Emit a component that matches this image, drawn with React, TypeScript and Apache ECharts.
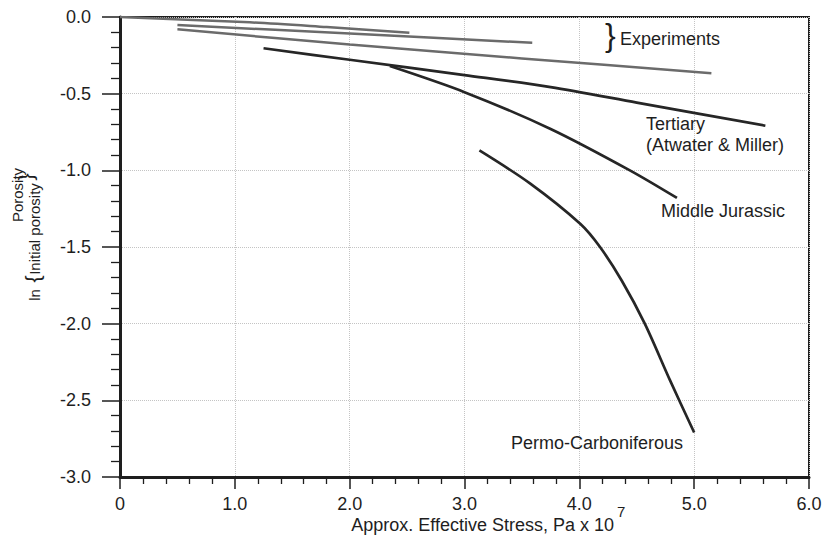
import React, { useEffect, useRef } from "react";
import * as echarts from "echarts";

// Compaction curves: ln(porosity / initial porosity) against effective stress (Pa x 1e7)
const experimentA: [number, number][] = [
  [0, 0],
  [1.13, -0.035],
  [1.8, -0.066],
  [2.52, -0.102],
];
const experimentB: [number, number][] = [
  [0.5, -0.052],
  [2.0, -0.108],
  [3.59, -0.168],
];
const experimentC: [number, number][] = [
  [0.5, -0.08],
  [2.0, -0.18],
  [3.5, -0.27],
  [5.15, -0.367],
];
const tertiary: [number, number][] = [
  [1.25, -0.204],
  [2.0, -0.279],
  [3.0, -0.379],
  [3.75, -0.457],
  [4.5, -0.558],
  [5.62, -0.709],
];
const middleJurassic: [number, number][] = [
  [2.35, -0.32],
  [3.0, -0.49],
  [3.75, -0.73],
  [4.44, -1.0],
  [4.85, -1.18],
];
const permoCarboniferous: [number, number][] = [
  [3.13, -0.87],
  [3.57, -1.085],
  [4.01, -1.35],
  [4.18, -1.5],
  [4.37, -1.72],
  [4.57, -2.0],
  [4.79, -2.37],
  [5.0, -2.71],
];

const xRange = { min: 0, max: 6, step: 1 };
const yRange = { min: -3, max: 0, step: 0.5 };

const FONT = "Liberation Sans";
const INK = "#1e1e1e";

export default function App() {
  const ref = useRef<HTMLDivElement>(null);

  useEffect(() => {
    if (!ref.current) return;
    const chart = echarts.init(ref.current, null, { renderer: "svg" });

    const experimentLine = (data: [number, number][]) => ({
      type: "line",
      data,
      showSymbol: false,
      smooth: 0.3,
      lineStyle: { color: "#6b6b6b", width: 2.5 },
      z: 3,
    });
    const stratLine = (data: [number, number][]) => ({
      type: "line",
      data,
      showSymbol: false,
      smooth: 0.3,
      lineStyle: { color: "#262626", width: 2.7 },
      z: 4,
    });

    const text = (
      str: string,
      x: number,
      y: number,
      size: number,
      align: string = "left",
      rotation = 0
    ) => ({
      type: "text",
      x,
      y,
      rotation,
      style: {
        text: str,
        fontFamily: FONT,
        fontSize: size,
        fill: INK,
        align,
        verticalAlign: "middle",
      },
      z: 10,
    });

    chart.setOption({
      animation: false,
      backgroundColor: "#ffffff",
      grid: {
        left: 120,
        right: 16,
        top: 17,
        bottom: 58,
        show: true,
        borderColor: INK,
        borderWidth: 2,
      },
      xAxis: {
        type: "value",
        min: xRange.min,
        max: xRange.max,
        interval: xRange.step,
        axisLine: { show: true, onZero: false, lineStyle: { color: INK, width: 3 } },
        axisTick: { show: true, length: 12, lineStyle: { color: INK, width: 1.5 } },
        minorTick: { show: true, splitNumber: 5, length: 7, lineStyle: { color: INK, width: 1.3 } },
        splitLine: { show: true, lineStyle: { color: "#c4c4c4", width: 1, type: "dotted" } },
        axisLabel: {
          color: INK,
          fontFamily: FONT,
          fontSize: 18,
          margin: 18,
          formatter: (v: number) => (v === 0 ? "0" : v.toFixed(1)),
        },
      },
      yAxis: {
        type: "value",
        min: yRange.min,
        max: yRange.max,
        interval: yRange.step,
        axisLine: { show: true, onZero: false, lineStyle: { color: INK, width: 3 } },
        axisTick: { show: true, length: 18, lineStyle: { color: INK, width: 1.5 } },
        minorTick: { show: true, splitNumber: 5, length: 9, lineStyle: { color: INK, width: 1.3 } },
        splitLine: { show: true, lineStyle: { color: "#c4c4c4", width: 1, type: "dotted" } },
        axisLabel: {
          color: INK,
          fontFamily: FONT,
          fontSize: 18,
          margin: 29,
          formatter: (v: number) => v.toFixed(1),
        },
      },
      series: [
        experimentLine(experimentA),
        experimentLine(experimentB),
        experimentLine(experimentC),
        stratLine(tertiary),
        stratLine(middleJurassic),
        stratLine(permoCarboniferous),
      ],
      graphic: [
        text("}", 605, 35, 32),
        text("Experiments", 620, 39, 18),
        text("Tertiary", 646, 124, 18),
        text("(Atwater & Miller)", 646, 145, 18),
        text("Middle Jurassic", 661, 211, 18),
        text("Permo-Carboniferous", 597, 443, 18, "center"),
        text("Approx. Effective Stress, Pa x 10", 614, 525, 18, "right"),
        text("7", 617, 511, 15),
        // y-axis title: ln{ Porosity / Initial porosity }, rotated to read upwards
        text("Porosity", 17, 195, 15, "center", Math.PI / 2),
        text("Initial porosity", 34, 229, 15, "center", Math.PI / 2),
        text("{", 32, 279, 21, "center", Math.PI / 2),
        text("ln", 34, 295, 15, "center", Math.PI / 2),
        text("}", 25, 177, 21, "center", Math.PI / 2),
      ],
    });

    return () => chart.dispose();
  }, []);

  return (
    <div
      ref={ref}
      style={{ position: "fixed", left: 0, top: 0, width: 825, height: 535, background: "#fff" }}
    />
  );
}
